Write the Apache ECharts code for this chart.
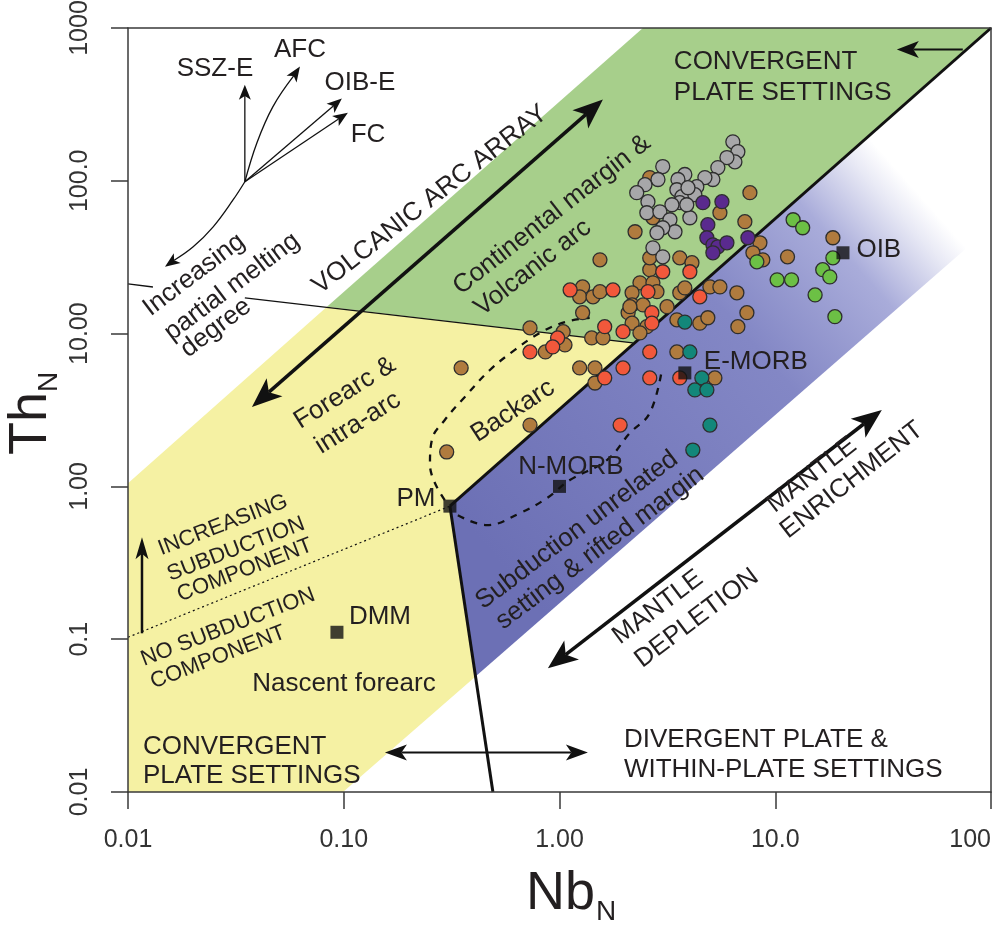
<!DOCTYPE html>
<html>
<head>
<meta charset="utf-8">
<script src="https://cdn.jsdelivr.net/npm/echarts@6/dist/echarts.min.js"></script>
<style>html,body{margin:0;padding:0;background:#fff}#chart{width:999px;height:925px}</style>
</head>
<body>
<div id="chart"></div>
<script>
// ---------- tick labels ----------
const xTickValues = [0.01, 0.1, 1, 10, 100];
const xTickLabels = ['0.01', '0.10', '1.00', '10.0', '100'];
const yTickValues = [0.01, 0.1, 1, 10, 100, 1000];
const yTickLabels = ['0.01', '0.1', '1.00', '10.00', '100.0', '1000'];

// ---------- sample data (Nb_N, Th_N) ----------
const brownPts = [[7.63,83.6],[5.54,61.8],[7.23,54.0],[2.24,46.4],[1.54,30.4],[3.61,31.3],[4.11,29.1],[2.62,26.2],[8.49,39.3],[7.88,33.8],[8.76,30.4],[2.62,105],[2.71,57.3],[2.62,31.3],[1.28,20.2],[1.24,17.4],[1.43,17.4],[1.54,18.8],[2.36,21.5],[2.71,21.5],[2.17,18.5],[2.17,15.4],[2.08,13.7],[2.17,11.7],[2.44,15.4],[2.54,11.1],[2.83,18.8],[3.15,15.0],[3.61,18.5],[3.81,19.9],[4.98,20.2],[5.54,20.2],[1.28,13.7],[0.73,10.9],[0.86,7.59],[1.04,10.3],[1.06,8.43],[1.41,9.37],[1.59,9.37],[2.36,10.1],[3.50,12.3],[4.47,11.7],[4.87,12.7],[3.50,7.59],[1.24,5.96],[1.46,5.96],[1.46,4.75],[0.73,2.52],[5.25,5.13],[11.4,31.8],[18.5,42.4],[6.64,18.5],[7.39,13.7],[6.71,11.1],[0.35,5.96],[0.30,1.68],[2.12,15.0]];
const redPts = [[1.12,19.3],[1.77,19.3],[3.01,25.4],[4.02,25.4],[2.57,18.8],[2.68,13.7],[2.68,11.7],[1.62,11.1],[1.97,10.3],[0.98,9.37],[0.93,8.18],[0.73,7.59],[4.47,17.4],[2.62,7.59],[1.97,5.96],[1.62,5.13],[2.62,5.13],[3.61,5.13],[1.91,2.52]];
const grayPts = [[6.36,180],[6.71,155],[6.50,133],[5.97,142],[5.42,122],[5.14,102],[4.72,105],[4.33,91.5],[3.81,110],[3.54,102],[3.50,87.4],[3.69,78.7],[3.61,71.9],[3.32,69.7],[3.01,124],[2.86,102],[2.49,94.3],[2.28,83.6],[2.57,73.0],[2.54,61.8],[2.92,62.7],[3.25,55.6],[4.02,57.3],[4.24,81.1],[3.94,90.1],[3.43,46.4],[3.01,49.3],[2.83,45.7],[2.71,36.4],[3.01,31.8],[3.89,69.7]];
const purplePts = [[4.62,71.9],[5.66,73.0],[4.87,51.6],[4.82,42.4],[5.14,38.1],[5.42,37.0],[5.97,39.3],[5.14,33.8],[7.47,42.4]];
const tealPts = [[3.81,11.9],[4.02,7.59],[4.57,5.13],[4.24,4.28],[4.82,4.28],[4.98,2.52],[4.15,1.73]];
const greenPts = [[8.22,29.5],[10.2,22.5],[12.1,55.6],[13.4,49.3],[11.9,22.5],[18.5,31.3],[16.6,26.2],[17.9,23.5],[15.3,17.9],[18.9,12.9]];

// ---------- reference compositions ----------
const refNames = ['PM', 'N-MORB', 'E-MORB', 'OIB', 'DMM'];
const refPts = [[0.3105,0.7427],[1.0,1.0],[3.81,5.53],[20.6,33.8],[0.093,0.111]];

// ---------- field boundaries (data coordinates) ----------
const greenZone = [[0.0836,14.96],[2.435,1000],[100,1000],[2.188,8.69]];
const yellowZone = [[0.01,1.05],[0.0836,14.96],[2.188,8.69],[0.3105,0.7427],[0.408,0.0571],[0.0992,0.01],[0.01,0.01]];
const blueZone = [[0.3105,0.7427],[0.408,0.0571],[100,50],[100,1000]];
const blueFade = [[0.3105,0.7427],[26.86,194.5]];
const mainDivide = [[0.3105,0.7427],[100,1000]];
const pmDown = [[0.3105,0.7427],[0.4913,0.01]];
const arcLineA = [[0.01,21.17],[0.01305,20.2]];
const arcLineB = [[0.0348,17.14],[2.188,8.69]];
const subductionLine = [[0.01,0.1029],[0.3105,0.7427]];
const backarcLeft = [[0.294,0.813],[0.251,1.38],[0.256,2.01],[0.294,2.72],[0.364,3.85],[0.476,5.78],[0.621,7.82],[0.811,10.1],[1.06,11.9],[1.38,12.7]];
const backarcRight = [[0.338,0.648],[0.461,0.558],[0.655,0.668],[0.874,0.838],[1.117,1.10],[1.658,1.487],[2.12,2.235],[2.62,3.02],[2.98,5.78]];

// ---------- arrows (data coordinates) ----------
const arrowPaths = [
  [[0.0348,98.6],[0.0348,426]],
  [[0.0348,98.6],[0.0396,177.7],[0.04697,305.9],[0.06266,559]],
  [[0.0348,98.6],[0.098,345]],
  [[0.0348,98.6],[0.1045,279]],
  [[0.0348,98.6],[0.03073,75.2],[0.02482,50.0],[0.02005,37.0],[0.01484,27.4]],
  [[0.03755,3.309],[1.589,340]],
  [[0.1552,0.01815],[1.354,0.01815]],
  [[74.0,722.9],[36.6,722.9]],
  [[0.8835,0.06449],[31.19,3.163]],
  [[0.01161,0.1093],[0.01161,0.4654]]
];
const arrowEnds = ['end','end','end','end','end','both','both','end','both','end'];
const arrowStyles = [
  {w:1.3,L:15,W:12,smooth:0},
  {w:1.3,L:15,W:12,smooth:0.4},
  {w:1.3,L:15,W:12,smooth:0},
  {w:1.3,L:15,W:12,smooth:0},
  {w:1.3,L:15,W:12,smooth:0.4},
  {w:3.5,L:30,W:24,smooth:0},
  {w:2,L:22,W:16,smooth:0},
  {w:2,L:22,W:17,smooth:0},
  {w:3.5,L:30,W:24,smooth:0},
  {w:2.5,L:22,W:13,smooth:0}
];

// ---------- annotation texts ----------
const labelTexts = ['SSZ-E','AFC','OIB-E','FC','VOLCANIC ARC ARRAY','Continental margin &','Volcanic arc','Forearc &','intra-arc','Backarc','PM','N-MORB','E-MORB','OIB','DMM','Nascent forearc','CONVERGENT','PLATE SETTINGS','DIVERGENT PLATE &','WITHIN-PLATE SETTINGS','CONVERGENT','PLATE SETTINGS','MANTLE','DEPLETION','MANTLE','ENRICHMENT','Subduction unrelated','setting & rifted margin','INCREASING','SUBDUCTION','COMPONENT','NO SUBDUCTION','COMPONENT','Increasing','partial melting','degree'];
const labelAt = [[0.02529,542.7],[0.06266,722.9],[0.1189,439.3],[0.1295,200.5],[0.2508,75.2],[0.9222,59.96],[0.7528,26.95],[0.1013,4.087],[0.1164,2.599],[0.6081,3.114],[0.2161,0.8255],[1.129,1.338],[8.131,6.524],[30.2,35.37],[0.1472,0.1391],[0.1002,0.0514],[0.01173,0.01987],[0.01173,0.01282],[1.988,0.02208],[1.988,0.01404],[3.389,603.1],[3.389,377.8],[2.858,0.1618],[4.332,0.1371],[14.78,1.186],[22.65,1.10],[1.204,0.5171],[1.539,0.394],[0.02756,0.5577],[0.03165,0.3883],[0.03484,0.2829],[0.02906,0.1197],[0.02612,0.0761],[0.02022,24.25],[0.03034,20.23],[0.02557,10.9]];
const labelRot = [0,0,0,0,38,38,38,32,32,33,0,0,0,0,0,0,0,0,0,0,0,0,37,37,38,38,37,37,21,21,21,21,21,37,37,37];
const labelSize = [26,26,26,26,26,26,26,26,26,26,26,26,26,26,26,26,26,26,26,26,26,26,26,26,26,26,26,26,22,22,22,22,22,26,26,26];
const labelAlign = ['center','center','center','center','center','center','center','center','center','center','center','center','center','center','center','center','left','left','left','left','left','left','center','center','center','center','center','center','center','center','center','center','center','center','center','center'];

const FONT = '"Liberation Sans", Arial, sans-serif';
const INK = '#231f20';

function fmt(values, labels) {
  return function (v) {
    for (let i = 0; i < values.length; i++) {
      if (Math.abs(Math.log10(values[i]) - Math.log10(v)) < 1e-6) return labels[i];
    }
    return '';
  };
}

function polySeries(pts, fillFn, z) {
  return {
    type: 'custom', coordinateSystem: 'cartesian2d', silent: true, z: z,
    data: [[pts[0][0], pts[0][1]]],
    renderItem: function (params, api) {
      const points = pts.map(p => api.coord(p));
      return { type: 'polygon', shape: { points: points }, style: { fill: fillFn(api), stroke: null } };
    }
  };
}

function lineSeries(pts, width, type, z, smooth) {
  return {
    type: 'line', data: pts, showSymbol: false, symbol: 'none', silent: true, z: z,
    smooth: smooth || false, animation: false,
    lineStyle: { color: '#111', width: width, type: type, cap: 'butt' }
  };
}

function scatterSeries(name, pts, color, z) {
  return {
    type: 'scatter', name: name, data: pts, symbol: 'circle', symbolSize: 14, z: z,
    itemStyle: { color: color, borderColor: '#2e2e2e', borderWidth: 1.3, opacity: 1 }
  };
}

function arrowRender(params, api) {
  const i = api.value(2);
  const st = arrowStyles[i];
  const pts = arrowPaths[i].map(p => api.coord(p));
  const children = [];
  function head(tip, from) {
    const dx = tip[0] - from[0], dy = tip[1] - from[1];
    const len = Math.hypot(dx, dy) || 1;
    const ux = dx / len, uy = dy / len, px = -uy, py = ux;
    const bx = tip[0] - ux * st.L, by = tip[1] - uy * st.L;
    const nx = tip[0] - ux * st.L * 0.75, ny = tip[1] - uy * st.L * 0.75;
    children.push({ type: 'polygon', shape: { points: [tip, [bx + px * st.W / 2, by + py * st.W / 2], [nx, ny], [bx - px * st.W / 2, by - py * st.W / 2]] }, style: { fill: '#111' } });
    return [nx, ny];
  }
  const linePts = pts.slice();
  const e = arrowEnds[i];
  if (e === 'end' || e === 'both') linePts[linePts.length - 1] = head(pts[pts.length - 1], pts[pts.length - 2]);
  if (e === 'both') linePts[0] = head(pts[0], pts[1]);
  children.unshift({ type: 'polyline', shape: { points: linePts, smooth: st.smooth }, style: { stroke: '#111', lineWidth: st.w, fill: null } });
  return { type: 'group', children: children };
}

function labelRender(params, api) {
  const i = api.value(2);
  const p = api.coord([api.value(0), api.value(1)]);
  return {
    type: 'text', x: p[0], y: p[1], rotation: labelRot[i] * Math.PI / 180,
    style: { text: labelTexts[i], fill: INK, font: labelSize[i] + 'px ' + FONT, align: labelAlign[i], verticalAlign: 'middle' }
  };
}

const chart = echarts.init(document.getElementById('chart'), null, { renderer: 'canvas' });

const axisLineStyle = { color: '#3a3a3a', width: 1.5 };
const option = {
  animation: false,
  backgroundColor: '#ffffff',
  grid: { left: 128, right: 8, top: 28, bottom: 133, containLabel: false, outerBoundsMode: 'none' },
  xAxis: [
    {
      type: 'log', logBase: 10, min: 0.01, max: 100, position: 'bottom', z: 10,
      axisLine: { show: true, lineStyle: axisLineStyle },
      axisTick: { show: true, inside: false, length: 17, lineStyle: axisLineStyle },
      axisLabel: { show: true, margin: 36, fontSize: 25, color: '#333', fontFamily: FONT, formatter: fmt(xTickValues, xTickLabels), showMinLabel: true, showMaxLabel: true, alignMaxLabel: 'right' },
      splitLine: { show: false }, minorTick: { show: false }
    },
    {
      type: 'log', logBase: 10, min: 0.01, max: 100, position: 'top', z: 10,
      axisLine: { show: true, onZero: false, lineStyle: axisLineStyle },
      axisTick: { show: false }, axisLabel: { show: false }, splitLine: { show: false }
    }
  ],
  yAxis: [
    {
      type: 'log', logBase: 10, min: 0.01, max: 1000, position: 'left', z: 10,
      axisLine: { show: true, lineStyle: axisLineStyle },
      axisTick: { show: true, inside: false, length: 17, lineStyle: axisLineStyle },
      axisLabel: { show: true, rotate: 90, margin: 35, fontSize: 25, color: '#333', fontFamily: FONT, formatter: fmt(yTickValues, yTickLabels), showMinLabel: true, showMaxLabel: true },
      splitLine: { show: false }, minorTick: { show: false }
    },
    {
      type: 'log', logBase: 10, min: 0.01, max: 1000, position: 'right', z: 10,
      axisLine: { show: true, onZero: false, lineStyle: axisLineStyle },
      axisTick: { show: false }, axisLabel: { show: false }, splitLine: { show: false }
    }
  ],
  graphic: [
    { type: 'text', x: 526, y: 894, z: 20, style: { text: 'Nb', fill: INK, font: '54px ' + FONT, align: 'left', verticalAlign: 'middle' } },
    { type: 'text', x: 596, y: 912, z: 20, style: { text: 'N', fill: INK, font: '28px ' + FONT, align: 'left', verticalAlign: 'middle' } },
    { type: 'text', x: 31, y: 455, rotation: Math.PI / 2, z: 20, style: { text: 'Th', fill: INK, font: '54px ' + FONT, align: 'left', verticalAlign: 'middle' } },
    { type: 'text', x: 49, y: 392, rotation: Math.PI / 2, z: 20, style: { text: 'N', fill: INK, font: '28px ' + FONT, align: 'left', verticalAlign: 'middle' } }
  ],
  series: [
    polySeries(yellowZone, () => '#f5f1a3', 1),
    polySeries(greenZone, () => '#a7cf8b', 1),
    polySeries(blueZone, function (api) {
      const a = api.coord(blueFade[0]), b = api.coord(blueFade[1]);
      return new echarts.graphic.LinearGradient(a[0], a[1], b[0], b[1], [
        { offset: 0, color: '#6c70b5' },
        { offset: 0.6, color: '#8387c5' },
        { offset: 0.83, color: '#a9acda' },
        { offset: 0.95, color: '#e8e9f5' },
        { offset: 1, color: '#ffffff' }
      ], true);
    }, 1),
    lineSeries(subductionLine, 1.2, [2, 3], 2),
    lineSeries(arcLineA, 1.4, 'solid', 2),
    lineSeries(arcLineB, 1.4, 'solid', 2),
    lineSeries(backarcLeft, 2.3, [7, 7], 2, 0.4),
    lineSeries(backarcRight, 2.3, [7, 7], 2, 0.4),
    lineSeries(mainDivide, 3, 'solid', 3),
    lineSeries(pmDown, 3, 'solid', 3),
    {
      type: 'custom', coordinateSystem: 'cartesian2d', silent: true, z: 3,
      data: arrowPaths.map((p, i) => [p[0][0], p[0][1], i]),
      encode: { x: 0, y: 1 },
      renderItem: arrowRender
    },
    scatterSeries('brown', brownPts, '#b07b3e', 4),
    scatterSeries('red', redPts, '#f2583b', 4),
    scatterSeries('gray', grayPts, '#a7a7a9', 4),
    scatterSeries('purple', purplePts, '#5a2a8e', 4),
    scatterSeries('teal', tealPts, '#13877a', 4),
    scatterSeries('green', greenPts, '#6cc045', 4),
    {
      type: 'scatter', name: 'reference', data: refPts, symbol: 'rect', symbolSize: 13, z: 5,
      itemStyle: { color: '#111', borderWidth: 0 }
    },
    {
      type: 'custom', coordinateSystem: 'cartesian2d', silent: true, z: 6,
      data: labelAt.map((p, i) => [p[0], p[1], i]),
      encode: { x: 0, y: 1 },
      renderItem: labelRender
    }
  ]
};
chart.setOption(option);
</script>
</body>
</html>
